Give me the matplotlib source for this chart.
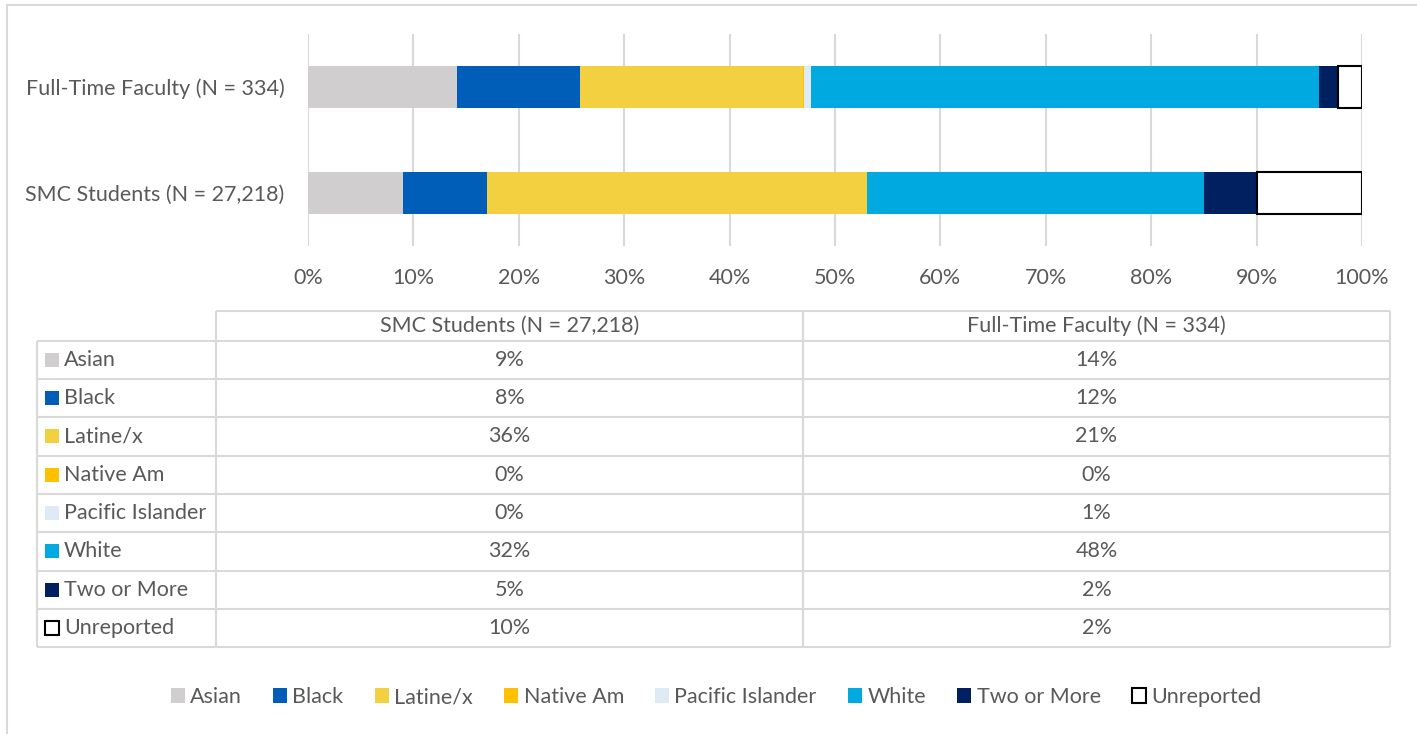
import matplotlib.pyplot as plt
from matplotlib.patches import Patch
import numpy as np

plt.rcParams['font.family'] = ['Lato', 'DejaVu Sans']

groups = ['SMC Students (N = 27,218)', 'Full-Time Faculty (N = 334)']
categories = ['Asian', 'Black', 'Latine/x', 'Native Am', 'Pacific Islander',
              'White', 'Two or More', 'Unreported']
smc_students = [9.0, 8.0, 36.0, 0.0, 0.0, 32.0, 5.0, 10.0]
ft_faculty = [14.1, 11.7, 21.15, 0.1, 0.7, 48.2, 1.8, 2.25]
colors = ['#d0cece', '#005eb8', '#f2d03f', '#ffc000', '#deebf7',
          '#00a9e0', '#002060', '#ffffff']

TXT = '#595959'
GRID = '#d9d9d9'
FS = 15.5
W, H = 1417, 734

fig = plt.figure(figsize=(W / 100, H / 100), dpi=100)

# page layer in pixel coords (frame, data table)
bg = fig.add_axes([0, 0, 1, 1])
bg.set_xlim(0, W)
bg.set_ylim(H, 0)
bg.axis('off')
bg.plot([7, 7], [H, 5], color=GRID, lw=1.5)
bg.plot([7, W], [5, 5], color=GRID, lw=1.5)

# bar chart
ax = fig.add_axes([308 / W, 1 - 246 / H, (1362 - 308) / W, (246 - 34) / H])
data = np.array([smc_students, ft_faculty])
left = np.zeros(len(groups))
for i, cat in enumerate(categories):
    vals = data[:, i]
    if cat == 'Unreported':
        ax.barh(range(len(groups)), vals, left=left, height=0.4,
                color=colors[i], edgecolor='black', linewidth=1.5, zorder=3)
    else:
        ax.barh(range(len(groups)), vals, left=left, height=0.4,
                color=colors[i], linewidth=0, zorder=3)
    left += vals

ax.set_xlim(0, 100)
ax.set_ylim(-0.5, 1.5)
ax.set_xticks(np.arange(0, 101, 10))
ax.set_xticklabels(['{}%'.format(t) for t in range(0, 101, 10)])
ax.set_yticks(range(len(groups)))
ax.set_yticklabels(groups)
ax.grid(axis='x', color=GRID, lw=1.5, zorder=0)
for s in ax.spines.values():
    s.set_visible(False)
ax.tick_params(length=0, labelsize=FS, colors=TXT)
ax.tick_params(axis='x', pad=16)
ax.tick_params(axis='y', pad=17)

# data table
x0, x1, x2, x3 = 37, 216, 803, 1390
y_head = 311
row_h = 38.3
y_top = 340.7
n = len(categories)
y_bot = y_top + n * row_h
lc = dict(color=GRID, lw=1.5, solid_capstyle='butt')
bg.plot([x1, x3], [y_head, y_head], **lc)
for k in range(n + 1):
    y = y_top + k * row_h
    bg.plot([x0, x3], [y, y], **lc)
bg.plot([x0, x0], [y_top, y_bot], **lc)
for x in (x1, x2, x3):
    bg.plot([x, x], [y_head, y_bot], **lc)

bg.text((x1 + x2) / 2, (y_head + y_top) / 2, groups[0], ha='center',
        va='center', fontsize=FS, color=TXT)
bg.text((x2 + x3) / 2, (y_head + y_top) / 2, groups[1], ha='center',
        va='center', fontsize=FS, color=TXT)
for k, cat in enumerate(categories):
    yc = y_top + (k + 0.5) * row_h
    ec = 'black' if cat == 'Unreported' else colors[k]
    bg.add_patch(plt.Rectangle((45, yc - 7), 14, 14, facecolor=colors[k],
                               edgecolor=ec, lw=1.5 if cat == 'Unreported' else 0))
    bg.text(64, yc, cat, ha='left', va='center', fontsize=FS, color=TXT)
    bg.text((x1 + x2) / 2, yc, '{:.0f}%'.format(round(smc_students[k])),
            ha='center', va='center', fontsize=FS, color=TXT)
    bg.text((x2 + x3) / 2, yc, '{:.0f}%'.format(round(ft_faculty[k])),
            ha='center', va='center', fontsize=FS, color=TXT)

# legend
handles = []
for cat, c in zip(categories, colors):
    ec = 'black' if cat == 'Unreported' else c
    handles.append(Patch(facecolor=c, edgecolor=ec,
                         linewidth=1.5 if cat == 'Unreported' else 0, label=cat))
leg = fig.legend(handles=handles, loc='center', ncol=len(categories),
                 bbox_to_anchor=(716 / W, 1 - 697 / H), frameon=False,
                 fontsize=FS, handlelength=0.65, handleheight=0.65,
                 handletextpad=0.25, columnspacing=1.45)
for t in leg.get_texts():
    t.set_color(TXT)

fig.savefig('out.png', dpi=100)
